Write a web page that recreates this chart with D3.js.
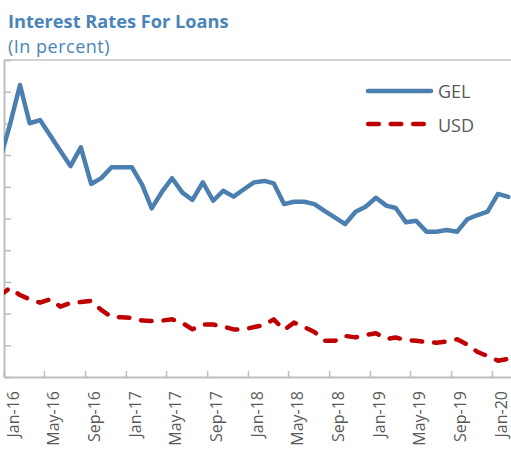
<!DOCTYPE html>
<html>
<head>
<meta charset="utf-8">
<script src="https://cdn.jsdelivr.net/npm/d3@7"></script>
<style>
  body { margin: 0; background: #fff; }
  svg { display: block; font-family: "Open Sans", "Noto Sans", sans-serif; }
</style>
</head>
<body>
<div id="chart"></div>
<script>
// monthly observations, Dec-15 .. Feb-20
const months = [
  "2015-12",
  "2016-01","2016-02","2016-03","2016-04","2016-05","2016-06","2016-07","2016-08","2016-09","2016-10","2016-11","2016-12",
  "2017-01","2017-02","2017-03","2017-04","2017-05","2017-06","2017-07","2017-08","2017-09","2017-10","2017-11","2017-12",
  "2018-01","2018-02","2018-03","2018-04","2018-05","2018-06","2018-07","2018-08","2018-09","2018-10","2018-11","2018-12",
  "2019-01","2019-02","2019-03","2019-04","2019-05","2019-06","2019-07","2019-08","2019-09","2019-10","2019-11","2019-12",
  "2020-01","2020-02"
];

const gel = [
  17.56,
  19.84, 22.42, 20.01, 20.21, 19.26, 18.26, 17.31, 18.49, 16.18, 16.55, 17.23, 17.23,
  17.23, 16.11, 14.64, 15.69, 16.54, 15.63, 15.17, 16.28, 15.12, 15.75, 15.38, 15.83,
  16.28, 16.37, 16.22, 14.91, 15.06, 15.06, 14.91, 14.47, 14.06, 13.65, 14.43, 14.74,
  15.31, 14.81, 14.66, 13.76, 13.86, 13.17, 13.17, 13.27, 13.17, 13.95, 14.22, 14.43,
  15.55, 15.36
];

const usd = [
  9.11,
  9.60, 9.17, 8.90, 8.69, 8.90, 8.44, 8.67, 8.73, 8.81, 8.23, 7.79, 7.77,
  7.72, 7.56, 7.53, 7.56, 7.64, 7.41, 7.01, 7.31, 7.31, 7.19, 7.00, 7.00,
  7.15, 7.28, 7.64, 6.97, 7.43, 7.14, 6.84, 6.29, 6.29, 6.59, 6.50, 6.65,
  6.76, 6.40, 6.49, 6.33, 6.29, 6.21, 6.16, 6.24, 6.38, 6.05, 5.58, 5.32,
  5.03, 5.14
];

const tickMonths = ["2016-01","2016-05","2016-09","2017-01","2017-05","2017-09","2018-01",
  "2018-05","2018-09","2019-01","2019-05","2019-09","2020-01"];
const tickLabels = ["Jan-16","May-16","Sep-16","Jan-17","May-17","Sep-17","Jan-18",
  "May-18","Sep-18","Jan-19","May-19","Sep-19","Jan-20"];

const yTicks = [4, 6, 8, 10, 12, 14, 16, 18, 20, 22, 24];

const width = 511;
const height = 453;
const margin = {top: 60, right: 0, bottom: 76, left: 4};

const parseMonth = d3.timeParse("%Y-%m");

const data = months.map((m, i) => ({
  date: d3.timeDay.offset(parseMonth(m), 18),   // points sit mid-month
  gel: gel[i],
  usd: usd[i]
}));

const svg = d3.select("#chart")
  .append("svg")
  .attr("width", width)
  .attr("height", height);

const x = d3.scaleTime()
  .domain([parseMonth("2016-01"), parseMonth("2020-03")])
  .range([margin.left - 0.4, 512]);

const y = d3.scaleLinear()
  .domain([4, 24])
  .range([height - margin.bottom, margin.top]);

svg.append("defs").append("clipPath")
  .attr("id", "plot")
  .append("rect")
  .attr("x", margin.left)
  .attr("y", margin.top)
  .attr("width", width - margin.left)
  .attr("height", height - margin.bottom - margin.top);

// titles
svg.append("text")
  .attr("x", 8)
  .attr("y", 28)
  .attr("fill", "#4a84b8")
  .attr("font-size", "18.2px")
  .attr("font-weight", 700)
  .text("Interest Rates For Loans");

svg.append("text")
  .attr("x", 8)
  .attr("y", 52.5)
  .attr("fill", "#4a84b8")
  .attr("font-size", "18px")
  .attr("letter-spacing", "0.5px")
  .text("(In percent)");

// top border
svg.append("line")
  .attr("x1", margin.left)
  .attr("x2", width)
  .attr("y1", margin.top)
  .attr("y2", margin.top)
  .attr("stroke", "#c4c4c4")
  .attr("stroke-width", 1.5);

// axes
const yAxis = svg.append("g")
  .attr("transform", `translate(${margin.left},0)`)
  .call(d3.axisRight(y).tickValues(yTicks).tickFormat("").tickSizeInner(7).tickSizeOuter(0));

const xAxis = svg.append("g")
  .attr("transform", `translate(0,${height - margin.bottom})`)
  .call(d3.axisBottom(x)
    .tickValues(tickMonths.map(parseMonth))
    .tickFormat((d, i) => tickLabels[i])
    .tickSizeInner(-6)
    .tickSizeOuter(0));

[xAxis, yAxis].forEach(g => {
  g.select(".domain").attr("stroke", "#bdbdbd").attr("stroke-width", 2);
  g.selectAll(".tick line").attr("stroke", "#bdbdbd").attr("stroke-width", 1.5);
});

xAxis.selectAll(".tick text")
  .attr("x", 0)
  .attr("y", 0)
  .attr("dy", null)
  .attr("transform", "translate(14.5,14) rotate(-90)")
  .attr("text-anchor", "end")
  .attr("fill", "#595959")
  .attr("font-size", "16px")
  .attr("font-family", "\"Open Sans\", sans-serif");

// series
const lines = svg.append("g").attr("clip-path", "url(#plot)");

lines.append("path")
  .datum(data)
  .attr("fill", "none")
  .attr("stroke", "#c00000")
  .attr("stroke-width", 4.5)
  .attr("stroke-linecap", "round")
  .attr("stroke-linejoin", "round")
  .attr("stroke-dasharray", "10.5,12")
  .attr("d", d3.line().x(d => x(d.date)).y(d => y(d.usd)));

lines.append("path")
  .datum(data)
  .attr("fill", "none")
  .attr("stroke", "#4a7fb0")
  .attr("stroke-width", 4.5)
  .attr("stroke-linecap", "round")
  .attr("stroke-linejoin", "round")
  .attr("d", d3.line().x(d => x(d.date)).y(d => y(d.gel)));

// legend
const legend = svg.append("g");

legend.append("line")
  .attr("x1", 368).attr("x2", 431)
  .attr("y1", 91).attr("y2", 91)
  .attr("stroke", "#4a7fb0")
  .attr("stroke-width", 4.5)
  .attr("stroke-linecap", "round");

legend.append("line")
  .attr("x1", 368.25).attr("x2", 423.75)
  .attr("y1", 124).attr("y2", 124)
  .attr("stroke", "#c00000")
  .attr("stroke-width", 4.5)
  .attr("stroke-linecap", "round")
  .attr("stroke-dasharray", "10.5,12");

legend.append("text")
  .attr("x", 438).attr("y", 97.7)
  .attr("fill", "#595959")
  .attr("font-size", "18px")
  .text("GEL");

legend.append("text")
  .attr("x", 438).attr("y", 131.7)
  .attr("fill", "#595959")
  .attr("font-size", "18px")
  .text("USD");
</script>
</body>
</html>
